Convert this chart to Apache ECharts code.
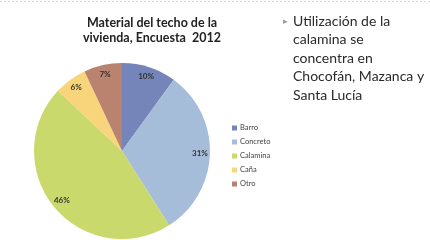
<!DOCTYPE html>
<html>
<head>
<meta charset="utf-8">
<script src="https://cdn.jsdelivr.net/npm/echarts@6/dist/echarts.min.js"></script>
<style>
  html, body { margin: 0; padding: 0; background: #fff; }
  #ch1 { width: 430px; height: 240px; }
</style>
</head>
<body>
<div id="ch1"></div>
<script>
var materiales = ['Barro', 'Concreto', 'Calamina', 'Caña', 'Otro'];
var porcentajes = [10, 31, 46, 6, 7];
var colores = ['#7584b9', '#a5bdd9', '#c9d96c', '#f8d57a', '#b9836f'];
var notaLineas = ['Utilización de la', 'calamina se', 'concentra en', 'Chocofán, Mazanca y', 'Santa Lucía'];

window.onload = function() {
  var ch1 = echarts.init(document.getElementById('ch1'));

  var datos = materiales.map(function(m, i) {
    return { name: m, value: porcentajes[i], itemStyle: { color: colores[i] } };
  });

  var nota = notaLineas.map(function(t, i) {
    return {
      type: 'text',
      left: 293,
      top: 14 + i * 18.5,
      style: { text: t, fontSize: 14, fontFamily: 'Lato', fill: '#2a2a2a' }
    };
  });
  nota.push({
    type: 'text', left: 283, top: 17,
    style: { text: '▸', fontSize: 9, fill: '#9a9a9a' }
  });
  // linea punteada arriba
  nota.push({
    type: 'line', shape: { x1: 0, y1: 1.5, x2: 430, y2: 1.5 },
    style: { stroke: '#d8d8d8', lineWidth: 1, lineDash: [2, 2] }
  });

  var op1 = {
    backgroundColor: '#fff',
    animation: false,
    title: {
      text: 'Material del techo de la\nvivienda, Encuesta  2012',
      left: 147,
      top: 10,
      textAlign: 'center',
      textStyle: { fontSize: 12.5, fontWeight: 'bold', fontFamily: 'Lato', color: '#222', lineHeight: 15 }
    },
    legend: {
      orient: 'vertical',
      left: 227,
      top: 119,
      icon: 'rect',
      itemWidth: 5,
      itemHeight: 5,
      itemGap: 6,
      data: materiales,
      textStyle: { fontSize: 7.5, color: '#444', fontFamily: 'Lato', padding: [0, 0, 0, -2] }
    },
    graphic: nota,
    series: [{
      type: 'pie',
      center: [122, 151],
      radius: [0, 88],
      startAngle: 90,
      clockwise: true,
      silent: true,
      label: { show: false },
      labelLine: { show: false },
      data: datos
    }, {
      // anillo transparente solo para poner las etiquetas cerca del borde
      type: 'pie',
      center: [122, 151],
      radius: [62, 88],
      startAngle: 90,
      silent: true,
      itemStyle: { color: 'transparent' },
      label: {
        show: true,
        position: 'inside',
        formatter: '{c}%',
        fontSize: 8,
        fontWeight: 'bold',
        fontFamily: 'Lato',
        color: '#333'
      },
      labelLine: { show: false },
      data: porcentajes.map(function(v, i) { return { name: materiales[i] + ' ', value: v }; })
    }]
  };

  ch1.setOption(op1);
};
</script>
</body>
</html>
